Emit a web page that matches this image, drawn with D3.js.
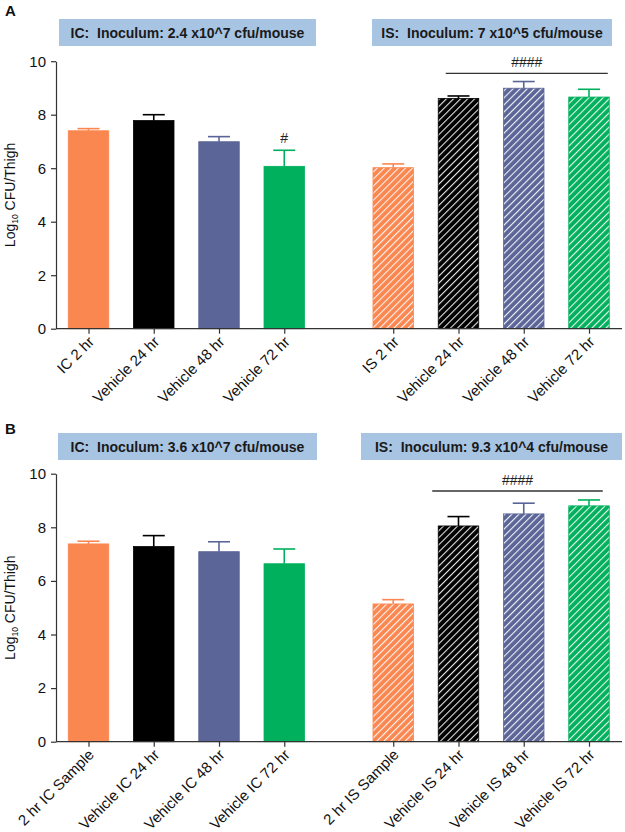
<!DOCTYPE html>
<html><head><meta charset="utf-8">
<script src="https://cdn.jsdelivr.net/npm/d3@7"></script>
<style>html,body{margin:0;padding:0;background:#fff;}svg{display:block;font-family:"Liberation Sans",Arial,sans-serif;}</style>
</head><body>
<script>
// ---------- data ----------
const labelsA = ["IC 2 hr","Vehicle 24 hr","Vehicle 48 hr","Vehicle 72 hr","IS 2 hr","Vehicle 24 hr","Vehicle 48 hr","Vehicle 72 hr"];
const meansA  = [7.40, 7.78, 6.99, 6.07, 6.02, 8.61, 8.99, 8.66];
const errA    = [0.08, 0.22, 0.19, 0.60, 0.14, 0.09, 0.25, 0.29];
const labelsB = ["2 hr IC Sample","Vehicle IC 24 hr","Vehicle IC 48 hr","Vehicle IC 72 hr","2 hr IS Sample","Vehicle IS 24 hr","Vehicle IS 48 hr","Vehicle IS 72 hr"];
const meansB  = [7.38, 7.28, 7.09, 6.64, 5.14, 8.05, 8.50, 8.80];
const errB    = [0.10, 0.41, 0.37, 0.55, 0.16, 0.35, 0.40, 0.22];
const groups  = [0,0,0,0,1,1,1,1];
const colorKeys = ["orange","black","blue","green","orange","black","blue","green"];
const headersA = ["IC:  Inoculum: 2.4 x10^7 cfu/mouse","IS:  Inoculum: 7 x10^5 cfu/mouse"];
const headersB = ["IC:  Inoculum: 3.6 x10^7 cfu/mouse","IS:  Inoculum: 9.3 x10^4 cfu/mouse"];
const annotA = [{bar:3, text:"#"}];
const bracketA = {from:5, to:7, text:"####"};
const bracketB = {from:5, to:7, text:"####"};
const yTicks = [0,2,4,6,8,10];

// ---------- styles ----------
const colors = {orange:"#fb8750", black:"#000000", blue:"#5b6597", green:"#00b05c"};
const axisColor = "#333";

const svg = d3.select("body").append("svg").attr("width",625).attr("height",832);
const defs = svg.append("defs");
const hs = 5.0;
Object.entries(colors).forEach(([k,c])=>{
  const p = defs.append("pattern").attr("id","hatch-"+k).attr("patternUnits","userSpaceOnUse")
    .attr("width",hs).attr("height",hs).attr("patternTransform","rotate(45)");
  p.append("rect").attr("width",hs).attr("height",hs).attr("fill",c);
  p.append("line").attr("x1",0.6).attr("y1",0).attr("x2",0.6).attr("y2",hs).attr("stroke","#fff").attr("stroke-width",1.0);
});

const gapFactor = 0.67;
const slot = (i)=> i + (groups[i] ? gapFactor : 0);
const x = d3.scaleLinear().domain([0, slot(7)]).range([88.5, 589]);
const barW = 40.5;

function drawPanel(cfg){
  const {labels, means, errs, headers, letter, y0, yTop, headerBoxes, bracket, annots} = cfg;
  const g = svg.append("g");
  const y = d3.scaleLinear().domain([0,10]).range([y0, yTop]);

  g.append("text").attr("x",5).attr("y",letter.y).attr("font-size",15).attr("font-weight","bold").attr("fill","#111").text(letter.t);

  headers.forEach((h,i)=>{
    const b = headerBoxes[i];
    g.append("rect").attr("x",b[0]).attr("y",b[1]).attr("width",b[2]-b[0]).attr("height",b[3]-b[1]).attr("fill","#a7c4e3");
    g.append("text").attr("x",(b[0]+b[2])/2).attr("y",(b[1]+b[3])/2+5).attr("text-anchor","middle")
      .attr("font-size",14).attr("font-weight","bold").attr("fill","#1a1a1a").style("white-space","pre").text(h);
  });

  means.forEach((m,i)=>{
    const c = colors[colorKeys[i]];
    const fill = groups[i] ? `url(#hatch-${colorKeys[i]})` : c;
    const cx = x(slot(i));
    const yt = y(m), ye = y(m+errs[i]);
    g.append("line").attr("x1",cx).attr("x2",cx).attr("y1",yt).attr("y2",ye).attr("stroke",c).attr("stroke-width",1.6);
    g.append("line").attr("x1",cx-11).attr("x2",cx+11).attr("y1",ye).attr("y2",ye).attr("stroke",c).attr("stroke-width",1.6);
    g.append("rect").attr("x",cx-barW/2).attr("y",yt).attr("width",barW).attr("height",y0-yt)
      .attr("fill",fill).attr("stroke",c).attr("stroke-width",0.8);
  });

  const ya = g.append("g").attr("transform","translate(56,0)").call(d3.axisLeft(y).tickValues(yTicks).tickSize(5).tickSizeOuter(0));
  ya.selectAll("path,line").attr("stroke",axisColor).attr("stroke-width",1.2);
  ya.selectAll("text").attr("font-size",15).attr("fill","#111").attr("font-family","Liberation Sans, Arial, sans-serif").attr("x",-10);

  g.append("line").attr("x1",56).attr("x2",622).attr("y1",y0).attr("y2",y0).attr("stroke",axisColor).attr("stroke-width",1.2);
  const xa = g.append("g").attr("transform",`translate(0,${y0})`)
    .call(d3.axisBottom(x).tickValues(labels.map((d,i)=>slot(i))).tickFormat((d,i)=>labels[i]).tickSize(5));
  xa.select(".domain").remove();
  xa.selectAll("line").attr("stroke",axisColor).attr("stroke-width",1.2);
  xa.selectAll("text").attr("font-size",15).attr("fill","#111").attr("font-family","Liberation Sans, Arial, sans-serif")
    .attr("text-anchor","end").attr("dy",0).attr("y",0)
    .attr("transform","translate(6,14) rotate(-45)");

  const yl = g.append("text").attr("transform",`translate(15,${(y0+yTop)/2}) rotate(-90)`).attr("text-anchor","middle")
    .attr("font-size",14).attr("fill","#111");
  yl.append("tspan").text("Log");
  yl.append("tspan").attr("font-size",8.5).attr("dy",3).text("10");
  yl.append("tspan").attr("dy",-3).text(" CFU/Thigh");

  annots.forEach(a=>{
    g.append("text").attr("x",x(slot(a.bar))).attr("y",y(means[a.bar]+errs[a.bar])-7).attr("text-anchor","middle")
      .attr("font-size",14).attr("fill","#222").text(a.text);
  });
  if(bracket){
    const x1 = x(slot(bracket.from))-barW/2-(bracket.padL||0), x2 = x(slot(bracket.to))+barW/2-(bracket.padR||0);
    g.append("line").attr("x1",x1).attr("x2",x2).attr("y1",bracket.y).attr("y2",bracket.y).attr("stroke","#333").attr("stroke-width",1.3);
    g.append("text").attr("x",(x1+x2)/2).attr("y",bracket.y-6).attr("text-anchor","middle").attr("font-size",14).attr("fill","#222").text(bracket.text);
  }
}

drawPanel({labels:labelsA, means:meansA, errs:errA, headers:headersA, letter:{t:"A",y:16},
  y0:328.7, yTop:61.2, headerBoxes:[[59,19,316,46],[372,19,612,46]],
  bracket:Object.assign({y:73.3, padL:-7.5, padR:1.5}, bracketA), annots:annotA});
drawPanel({labels:labelsB, means:meansB, errs:errB, headers:headersB, letter:{t:"B",y:434},
  y0:741.7, yTop:473.7, headerBoxes:[[58,433,317,460],[361,433,622,460]],
  bracket:Object.assign({y:491, padL:6, padR:6.5}, bracketB), annots:[]});
</script>
</body></html>
